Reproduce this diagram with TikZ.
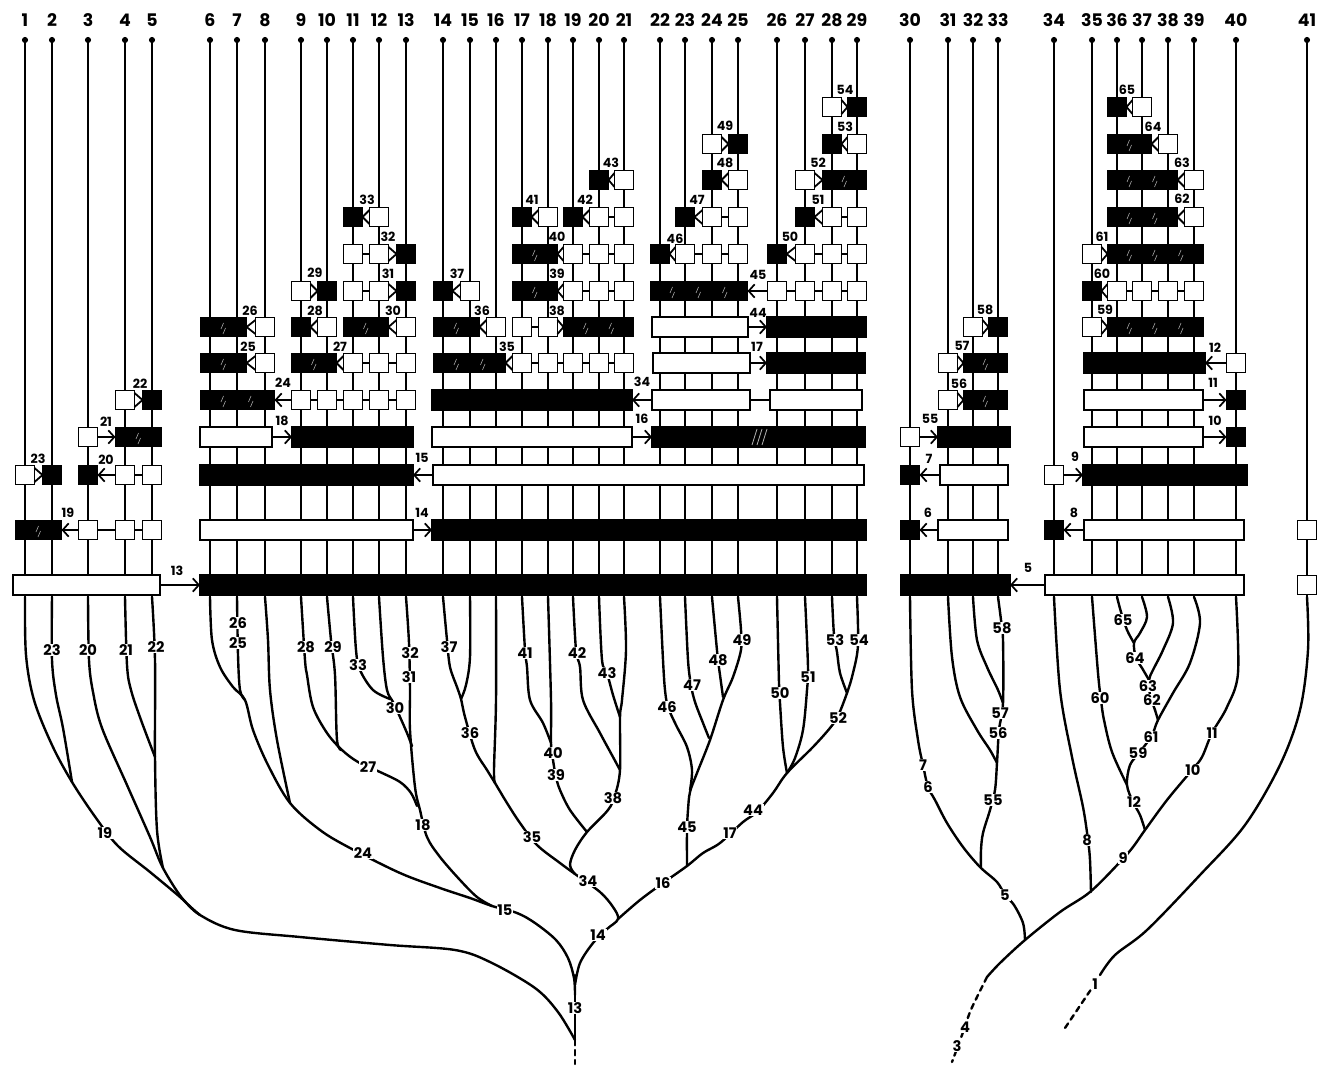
\documentclass[tikz,border=0pt]{standalone}
\usepackage{fontspec}
\setmainfont{Poppins}
\usetikzlibrary{arrows.meta}
\tikzset{
  bx/.style={line width=1.35pt, draw=black},
  vl/.style={line width=1.3pt},
  tr/.style={line width=1.8pt, line cap=round, line join=round},
  hat/.style={draw=black!35, line width=0.45pt},
  blab/.style={font=\bfseries\fontsize{9.5}{9.5}\selectfont, inner sep=0pt},
  klab/.style={font=\bfseries\fontsize{11}{11}\selectfont, fill=white, inner sep=0.6pt},
  tlab/.style={font=\bfseries\fontsize{13}{13}\selectfont, inner sep=0pt},
  arr/.style={line width=1.3pt, -{Straight Barb[length=4.5pt,width=10pt]}},
}
\newcommand\Wsq[2]{\filldraw[bx,fill=white] ({#1-9.5},{#2-9.5}) rectangle ({#1+9.5},{#2+9.5});}
\newcommand\Bsq[2]{\filldraw[bx,fill=black] ({#1-9.5},{#2-9.5}) rectangle ({#1+9.5},{#2+9.5});}
\newcommand\Wbar[3]{\filldraw[bx,fill=white] (#1,{#3-10}) rectangle (#2,{#3+10});}
\newcommand\Bbar[3]{\filldraw[bx,fill=black] (#1,{#3-10}) rectangle (#2,{#3+10});}
\newcommand\Brun[4]{\filldraw[bx,fill=black] ({#1-9.5},{#3-9.5}) rectangle ({#2+9.5},{#3+9.5});
  \foreach \hx in {#4}{\draw[hat] ({\hx-2.5},{#3+2}) -- ({\hx},{#3-4}) ({\hx-0.5},{#3+7}) -- ({\hx+2},{#3+1});}}
\newcommand\Wrun[4]{\draw[bx] (#1,#4) -- (#2,#4); \foreach \wx in {#3}{\Wsq{\wx}{#4}}}
\newcommand\TLt[3]{\draw[bx] ({#2-9.5},{#3-7}) -- ({#1+9.5},#3) -- ({#2-9.5},{#3+7});}
\newcommand\TRt[3]{\draw[bx] ({#1+9.5},{#3-7}) -- ({#2-9.5},#3) -- ({#1+9.5},{#3+7});}
\newcommand\Ar[3]{\draw[arr] (#1,#3) -- (#2,#3);}
\newcommand\BL[3]{\node[blab] (b#1) at (#2,#3) {#1};}
\newcommand\KL[3]{\node[klab] (k#1) at (#2,#3) {#1};}
\newcommand\Col[2]{\draw[vl] (#2,40) -- (#2,597); \fill (#2,40) circle[radius=2.3pt]; \node[tlab] (t#1) at (#2,20) {#1};}
\begin{document}
\begin{tikzpicture}[x=0.75pt,y=-0.75pt]
\useasboundingbox[fill=white] (0,0) rectangle (1324,1066);
% columns
\Col{1}{25}\Col{2}{52}\Col{3}{88}\Col{4}{125}\Col{5}{152}
\Col{6}{210}\Col{7}{237}\Col{8}{265}\Col{9}{301}\Col{10}{327}\Col{11}{353}\Col{12}{379}\Col{13}{406}
\Col{14}{443}\Col{15}{470}\Col{16}{496}\Col{17}{522}\Col{18}{548}\Col{19}{573}\Col{20}{599}\Col{21}{624}
\Col{22}{660}\Col{23}{685}\Col{24}{712}\Col{25}{738}\Col{26}{777}\Col{27}{805}\Col{28}{832}\Col{29}{857}
\Col{30}{910}\Col{31}{948}\Col{32}{973}\Col{33}{998}
\Col{34}{1054}\Col{35}{1092}\Col{36}{1117}\Col{37}{1142}\Col{38}{1168}\Col{39}{1194}\Col{40}{1236}\Col{41}{1307}
% ---------- tree ----------
\begin{scope}[tr]
\draw plot[smooth,tension=0.55] coordinates {(25,597) (26,655) (34,700) (52,745) (72,782) (96,818) (118,846) (150,872) (180,897) (200,915) (235,930) (300,937) (390,945) (455,950) (490,962) (535,988) (558,1012) (575,1040)};
\draw plot[smooth,tension=0.55] coordinates {(52,597) (52,660) (56,695) (63,728) (72,782)};
\draw plot[smooth,tension=0.55] coordinates {(88,597) (89,660) (93,692) (102,728) (127,785) (150,837) (163,868) (182,898) (200,915)};
\draw plot[smooth,tension=0.55] coordinates {(125,597) (127,665) (131,690) (141,720) (155,757)};
\draw plot[smooth,tension=0.55] coordinates {(152,597) (155,660) (155,757) (157,830) (163,868)};
\draw plot[smooth,tension=0.55] coordinates {(210,597) (212,640) (220,667) (233,687) (245,700) (253,730) (268,765) (290,803) (320,830) (350,848) (400,873) (440,888) (470,898) (492,906) (517,913) (535,923) (556,940) (568,958) (574,978) (575,995)};
\draw plot[smooth,tension=0.55] coordinates {(237,597) (238,655) (240,690) (245,700)};
\draw plot[smooth,tension=0.55] coordinates {(265,597) (268,640) (270,690) (277,740) (290,803)};
\draw plot[smooth,tension=0.55] coordinates {(301,597) (305,660) (307,675) (313,707) (327,733) (342,750) (358,762) (380,772) (400,782) (411,793) (417,806)};
\draw plot[smooth,tension=0.55] coordinates {(327,597) (331,640) (335,675) (337,740) (342,750)};
\draw plot[smooth,tension=0.55] coordinates {(353,597) (356,650) (360,670) (373,690) (390,699)};
\draw plot[smooth,tension=0.55] coordinates {(379,597) (383,657) (387,690) (393,702) (400,717) (407,733) (412,746)};
\draw plot[smooth,tension=0.55] coordinates {(406,597) (409,643) (410,690) (410,730) (415,787) (420,810) (427,837) (440,857) (460,880) (477,897) (492,906)};
\draw plot[smooth,tension=0.55] coordinates {(443,597) (447,640) (450,667) (457,687) (461,699) (465,717) (475,750) (487,770) (495,783) (507,803) (520,823) (537,845) (560,863) (575,874) (600,892) (613,907) (618,919) (607,929) (593,943) (580,963) (575,985)};
\draw plot[smooth,tension=0.55] coordinates {(470,597) (470,657) (466,685) (461,699)};
\draw plot[smooth,tension=0.55] coordinates {(496,597) (496,700) (494,770) (495,783)};
\draw plot[smooth,tension=0.55] coordinates {(522,597) (525,650) (527,667) (530,700) (543,723) (551,743)};
\draw plot[smooth,tension=0.55] coordinates {(548,597) (551,700) (551,743) (553,760) (556,777) (560,790) (570,810) (587,832)};
\draw plot[smooth,tension=0.55] coordinates {(573,597) (576,650) (580,667) (583,700) (600,733) (613,757) (620,770)};
\draw plot[smooth,tension=0.55] coordinates {(599,597) (602,660) (607,673) (613,695) (620,717)};
\draw plot[smooth,tension=0.55] coordinates {(624,597) (626,650) (622,700) (620,717) (620,770) (615,795) (608,810) (587,832) (575,850) (570,865) (575,874)};
\draw plot[smooth,tension=0.55] coordinates {(660,597) (663,660) (665,690) (668,707) (676,725) (687,747) (692,770) (690,790)};
\draw plot[smooth,tension=0.55] coordinates {(685,597) (688,660) (691,685) (695,702) (703,723) (709,738)};
\draw plot[smooth,tension=0.55] coordinates {(712,597) (716,640) (718,660) (720,675) (723,697)};
\draw plot[smooth,tension=0.55] coordinates {(738,597) (741,630) (741,650) (733,677) (723,700) (710,740) (697,773) (690,792) (688,810) (687,830) (687,866)};
\draw plot[smooth,tension=0.55] coordinates {(857,597) (858,645) (853,673) (847,693) (838,716) (830,728) (813,747) (787,773) (773,793) (757,812) (743,822) (720,843) (703,853) (687,866) (663,883) (640,900) (618,919)};
\draw plot[smooth,tension=0.55] coordinates {(832,597) (834,635) (837,652) (840,673) (847,693)};
\draw plot[smooth,tension=0.55] coordinates {(777,597) (779,683) (780,703) (783,747) (787,773)};
\draw plot[smooth,tension=0.55] coordinates {(805,597) (808,667) (807,690) (803,730) (795,758) (787,773)};
\draw (575,975) -- (575,1040);
\draw[dash pattern=on 4pt off 3.5pt] (575,1040) -- (575,1064);
% right
\draw plot[smooth,tension=0.55] coordinates {(910,597) (912,690) (918,740) (923,765) (928,787) (935,800) (947,823) (963,847) (980,867) (997,882) (1005,895) (1014,905) (1023,923) (1025,940)};
\draw plot[smooth,tension=0.55] coordinates {(948,597) (952,657) (960,697) (977,730) (990,750) (997,763)};
\draw plot[smooth,tension=0.55] coordinates {(973,597) (977,640) (987,667) (998,690) (1003,703)};
\draw plot[smooth,tension=0.55] coordinates {(998,597) (1001,620) (1003,640) (1003,703) (999,730) (997,763) (995,790) (990,810) (983,833) (981,850) (981,867)};
\draw plot[smooth,tension=0.55] coordinates {(1054,597) (1060,690) (1072,757) (1083,807) (1088,840) (1090,860) (1091,892)};
\draw plot[smooth,tension=0.55] coordinates {(1092,597) (1098,673) (1101,700) (1104,720) (1112,752) (1127,785)};
\draw plot[smooth,tension=0.55] coordinates {(1117,597) (1121,612) (1127,630) (1134,643)};
\draw plot[smooth,tension=0.55] coordinates {(1142,597) (1147,617) (1140,633) (1134,643) (1136,658) (1142,668) (1149,680)};
\draw plot[smooth,tension=0.55] coordinates {(1168,597) (1173,623) (1163,650) (1153,670) (1149,680) (1150,695) (1155,710) (1158,720)};
\draw plot[smooth,tension=0.55] coordinates {(1194,597) (1200,623) (1190,663) (1173,693) (1158,720) (1152,735) (1140,752) (1130,765) (1127,785) (1133,802) (1140,815) (1145,830)};
\draw plot[smooth,tension=0.55] coordinates {(1236,597) (1238,673) (1227,707) (1212,733) (1202,757) (1192,770) (1167,800) (1145,830) (1133,847) (1120,862) (1090,892) (1060,912) (1025,940) (1000,963) (987,977)};
\draw[dash pattern=on 4pt off 3.5pt] plot[smooth,tension=0.55] coordinates {(987,977) (978,995) (970,1012) (962,1035) (952,1062)};
\draw plot[smooth,tension=0.55] coordinates {(1307,597) (1308,650) (1300,710) (1280,765) (1245,825) (1200,875) (1147,930) (1115,955) (1100,975)};
\draw[dash pattern=on 4pt off 3.5pt] (1096,982) -- (1065,1028);
\end{scope}
% ---------- boxes ----------
% Row A 585
\Wbar{13}{160}{585}\Ar{160}{200}{585}\Bbar{200}{866}{585}
\Bbar{901}{1010}{585}\Ar{1045}{1010}{585}\Wbar{1045}{1244}{585}
\Wsq{1307}{585}
% Row B 530
\Brun{25}{52}{530}{38.5}\Ar{78.5}{61.5}{530}\Wrun{88}{152}{88,125,152}{530}
\Wbar{200}{413}{530}\Ar{413}{432}{530}\Bbar{432}{866}{530}
\Bsq{910}{530}\Ar{938}{919.5}{530}\Wbar{938}{1008}{530}
\Bsq{1054}{530}\Ar{1084}{1063.5}{530}\Wbar{1084}{1244}{530}
\Wsq{1307}{530}
% Row C 475
\Wsq{25}{475}\TRt{25}{52}{475}\Bsq{52}{475}
\Bsq{88}{475}\Ar{115.5}{97.5}{475}\Wrun{125}{152}{125,152}{475}
\Bbar{200}{413}{475}\Ar{433}{413}{475}\Wbar{433}{864}{475}
\Bsq{910}{475}\Ar{940}{919.5}{475}\Wbar{940}{1008}{475}
\Wsq{1054}{475}\Ar{1063.5}{1083}{475}\Bbar{1083}{1247}{475}
% Row D 437
\Wsq{88}{437}\Ar{97.5}{115.5}{437}\Brun{125}{152}{437}{138.5}
\Wbar{200}{272}{437}\Ar{272}{292}{437}\Bbar{292}{413}{437}
\Wbar{432}{632}{437}\Ar{632}{652}{437}\Bbar{652}{865}{437}
\foreach \hx in {752,757,762}{\draw[draw=black!30,line width=0.6pt] (\hx,445) -- ({\hx+5},429);}
\Wsq{910}{437}\Ar{919.5}{938}{437}\Bbar{938}{1010}{437}
\Wbar{1084}{1203}{437}\Ar{1203}{1226.5}{437}\Bsq{1236}{437}
% Row E 400
\Wsq{125}{400}\TRt{125}{152}{400}\Bsq{152}{400}
\Brun{210}{265}{400}{223.5,251}\Ar{291.5}{274.5}{400}\Wrun{301}{406}{301,327,353,379,406}{400}
\Bbar{432}{632}{400}\Ar{652}{632}{400}\Wbar{652}{750}{400}\draw[bx] (750,400) -- (770,400);\Wbar{770}{862}{400}
\Wsq{948}{400}\TRt{948}{973}{400}\Brun{973}{998}{400}{985.5}
\Wbar{1084}{1203}{400}\Ar{1203}{1226.5}{400}\Bsq{1236}{400}
% Row F 363
\Brun{210}{237}{363}{223.5}\TLt{237}{265}{363}\Wsq{265}{363}
\Brun{301}{327}{363}{314}\TLt{327}{353}{363}\Wrun{353}{406}{353,379,406}{363}
\Brun{443}{496}{363}{456.5,483}\TLt{496}{522}{363}\Wrun{522}{624}{522,548,573,599,624}{363}
\Wbar{653}{750}{363}\Ar{750}{767}{363}\Bbar{767}{865}{363}
\Wsq{948}{363}\TRt{948}{973}{363}\Brun{973}{998}{363}{985.5}
\Bbar{1084}{1205}{363}\Ar{1226.5}{1205}{363}\Wsq{1236}{363}
% Row G 327
\Brun{210}{237}{327}{223.5}\TLt{237}{265}{327}\Wsq{265}{327}
\Bsq{301}{327}\TLt{301}{327}{327}\Wsq{327}{327}
\Brun{353}{379}{327}{366}\TLt{379}{406}{327}\Wsq{406}{327}
\Brun{443}{470}{327}{456.5}\TLt{470}{496}{327}\Wsq{496}{327}
\Wrun{522}{548}{522,548}{327}\TRt{548}{573}{327}\Brun{573}{624}{327}{586,611.5}
\Wbar{652}{748}{327}\Ar{748}{767}{327}\Bbar{767}{866}{327}
\Wsq{973}{327}\TRt{973}{998}{327}\Bsq{998}{327}
\Wsq{1092}{327}\TRt{1092}{1117}{327}\Brun{1117}{1194}{327}{1129.5,1155,1181}
% Row H 291
\Wsq{301}{291}\TRt{301}{327}{291}\Bsq{327}{291}
\Wrun{353}{379}{353,379}{291}\TRt{379}{406}{291}\Bsq{406}{291}
\Bsq{443}{291}\TLt{443}{470}{291}\Wsq{470}{291}
\Brun{522}{548}{291}{535}\TLt{548}{573}{291}\Wrun{573}{624}{573,599,624}{291}
\Brun{660}{738}{291}{672.5,698.5,725}\Ar{767.5}{747.5}{291}\Wrun{777}{857}{777,805,832,857}{291}
\Bsq{1092}{291}\TLt{1092}{1117}{291}\Wrun{1117}{1194}{1117,1142,1168,1194}{291}
% Row I 254
\Wrun{353}{379}{353,379}{254}\TRt{379}{406}{254}\Bsq{406}{254}
\Brun{522}{548}{254}{535}\TLt{548}{573}{254}\Wrun{573}{624}{573,599,624}{254}
\Bsq{660}{254}\TLt{660}{685}{254}\Wrun{685}{738}{685,712,738}{254}
\Bsq{777}{254}\TLt{777}{805}{254}\Wrun{805}{857}{805,832,857}{254}
\Wsq{1092}{254}\TRt{1092}{1117}{254}\Brun{1117}{1194}{254}{1129.5,1155,1181}
% Row J 217
\Bsq{353}{217}\TLt{353}{379}{217}\Wsq{379}{217}
\Bsq{522}{217}\TLt{522}{548}{217}\Wsq{548}{217}
\Bsq{573}{217}\TLt{573}{599}{217}\Wrun{599}{624}{599,624}{217}
\Bsq{685}{217}\TLt{685}{712}{217}\Wrun{712}{738}{712,738}{217}
\Bsq{805}{217}\TLt{805}{832}{217}\Wrun{832}{857}{832,857}{217}
\Brun{1117}{1168}{217}{1129.5,1155}\TLt{1168}{1194}{217}\Wsq{1194}{217}
% Row K 180
\Bsq{599}{180}\TLt{599}{624}{180}\Wsq{624}{180}
\Bsq{712}{180}\TLt{712}{738}{180}\Wsq{738}{180}
\Wsq{805}{180}\TRt{805}{832}{180}\Brun{832}{857}{180}{844.5}
\Brun{1117}{1168}{180}{1129.5,1155}\TLt{1168}{1194}{180}\Wsq{1194}{180}
% Row L 144
\Wsq{712}{144}\TRt{712}{738}{144}\Bsq{738}{144}
\Bsq{832}{144}\TLt{832}{857}{144}\Wsq{857}{144}
\Brun{1117}{1142}{144}{1129.5}\TLt{1142}{1168}{144}\Wsq{1168}{144}
% Row M 107
\Wsq{832}{107}\TRt{832}{857}{107}\Bsq{857}{107}
\Bsq{1117}{107}\TLt{1117}{1142}{107}\Wsq{1142}{107}
% ---------- box labels ----------
\BL{13}{177}{571}\BL{5}{1028}{568}
\BL{19}{68}{513}\BL{14}{422}{513}\BL{6}{928}{513}\BL{8}{1074}{513}
\BL{23}{38}{459}\BL{20}{106}{460}\BL{15}{422}{458}\BL{7}{929}{459}\BL{9}{1075}{457}
\BL{21}{106}{422}\BL{18}{282}{421}\BL{16}{642}{419}\BL{55}{930}{419}\BL{10}{1215}{421}
\BL{22}{140}{384}\BL{24}{283}{383}\BL{34}{642}{382}\BL{56}{959}{384}\BL{11}{1213}{383}
\BL{25}{248}{347}\BL{27}{340}{347}\BL{35}{507}{347}\BL{17}{757}{347}\BL{57}{962}{346}\BL{12}{1215}{348}
\BL{26}{250}{311}\BL{28}{315}{311}\BL{30}{393}{311}\BL{36}{482}{311}\BL{38}{557}{311}\BL{44}{758}{313}\BL{58}{985}{310}\BL{59}{1105}{310}
\BL{29}{315}{273}\BL{31}{388}{274}\BL{37}{457}{274}\BL{39}{557}{274}\BL{45}{758}{275}\BL{60}{1102}{274}
\BL{32}{388}{237}\BL{40}{557}{237}\BL{46}{675}{239}\BL{50}{790}{237}\BL{61}{1102}{237}
\BL{33}{367}{200}\BL{41}{532}{200}\BL{42}{585}{200}\BL{47}{697}{200}\BL{51}{818}{200}\BL{62}{1182}{199}
\BL{43}{611}{163}\BL{48}{725}{163}\BL{52}{818}{163}\BL{63}{1182}{163}
\BL{49}{725}{126}\BL{53}{845}{127}\BL{64}{1153}{127}
\BL{54}{845}{90}\BL{65}{1127}{90}
% ---------- tree labels ----------
\KL{23}{52}{650}\KL{20}{88}{650}\KL{21}{126}{650}\KL{22}{156}{647}\KL{19}{105}{833}
\KL{26}{238}{623}\KL{25}{238}{643}\KL{28}{306}{647}\KL{29}{333}{647}\KL{33}{358}{665}
\KL{32}{410}{653}\KL{31}{409}{677}\KL{30}{395}{708}\KL{27}{368}{767}\KL{24}{363}{853}
\KL{18}{423}{825}\KL{15}{505}{910}\KL{14}{598}{935}\KL{13}{575}{1008}
\KL{37}{449}{647}\KL{36}{470}{733}\KL{35}{532}{837}\KL{41}{525}{653}\KL{40}{553}{753}
\KL{39}{556}{775}\KL{42}{577}{653}\KL{43}{607}{673}\KL{38}{613}{798}\KL{34}{588}{881}
\KL{46}{667}{707}\KL{47}{692}{685}\KL{48}{718}{660}\KL{49}{742}{640}\KL{45}{687}{827}\KL{16}{663}{883}
\KL{50}{780}{693}\KL{51}{808}{677}\KL{53}{835}{640}\KL{54}{859}{640}\KL{52}{838}{718}\KL{44}{753}{810}\KL{17}{730}{833}
\KL{58}{1002}{628}\KL{57}{1000}{713}\KL{56}{998}{733}\KL{55}{993}{800}\KL{7}{923}{765}\KL{6}{928}{787}\KL{5}{1005}{895}
\KL{8}{1087}{840}\KL{60}{1100}{698}\KL{65}{1123}{620}\KL{64}{1135}{658}\KL{63}{1148}{686}\KL{62}{1152}{700}
\KL{61}{1151}{737}\KL{59}{1138}{753}\KL{12}{1134}{802}\KL{11}{1212}{733}\KL{10}{1193}{770}\KL{9}{1123}{858}
\KL{4}{965}{1027}\KL{3}{957}{1046}\KL{1}{1095}{984}
\end{tikzpicture}
\end{document}
